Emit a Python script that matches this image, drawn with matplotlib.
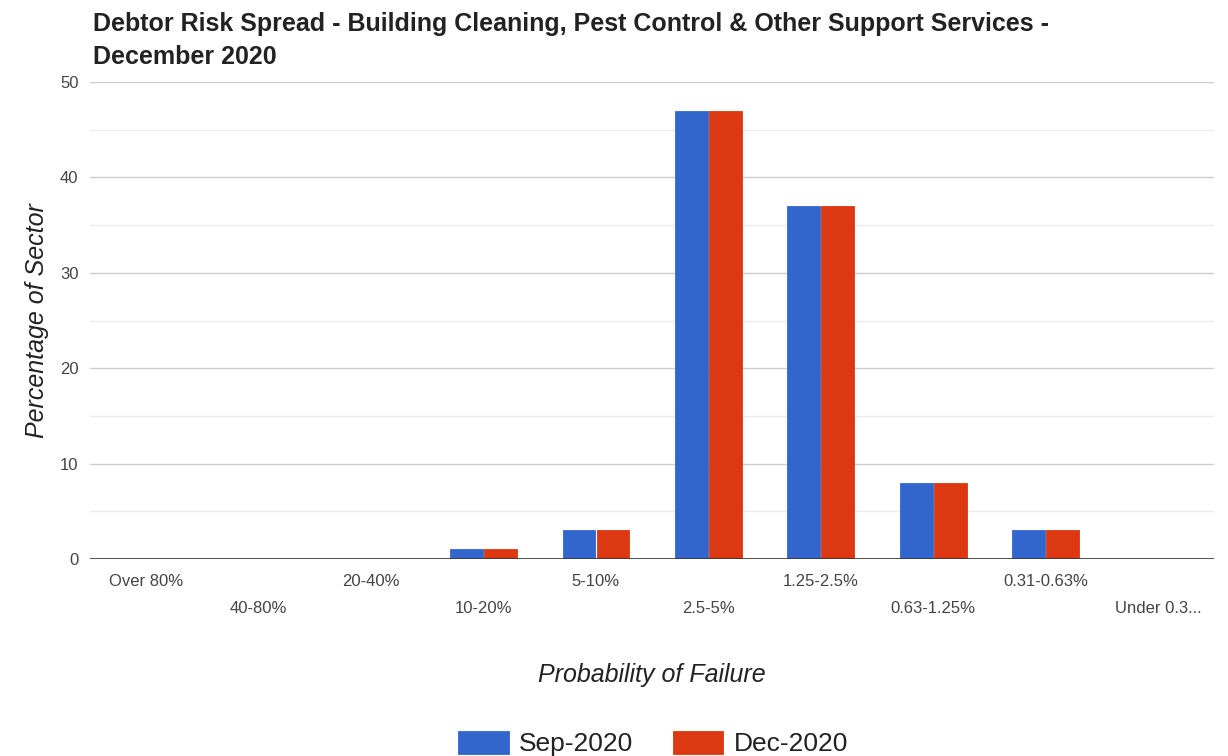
import numpy as np
import matplotlib.pyplot as plt
from matplotlib.ticker import MultipleLocator

categories = ["Over 80%", "40-80%", "20-40%", "10-20%", "5-10%", "2.5-5%",
              "1.25-2.5%", "0.63-1.25%", "0.31-0.63%", "Under 0.3..."]
sep_2020 = [0, 0, 0, 1, 3, 47, 37, 8, 3, 0]
dec_2020 = [0, 0, 0, 1, 3, 47, 37, 8, 3, 0]

plt.rcParams['font.family'] = ['Liberation Sans', 'DejaVu Sans']

fig = plt.figure(figsize=(12.28, 7.56), dpi=100)
ax = fig.add_axes([0.073, 0.2606, 0.916, 0.6309])

x = np.arange(len(categories))
w = 0.29
ax.bar(x - w / 2 - 0.006, sep_2020, w, color='#3366CC', edgecolor='#3366CC',
       linewidth=0.6, label='Sep-2020', zorder=3)
ax.bar(x + w / 2 + 0.006, dec_2020, w, color='#DC3912', edgecolor='#DC3912',
       linewidth=0.6, label='Dec-2020', zorder=3)

ax.set_xlim(-0.5, len(categories) - 0.5)
ax.set_ylim(0, 50)
ax.yaxis.set_major_locator(MultipleLocator(10))
ax.yaxis.set_minor_locator(MultipleLocator(5))
ax.grid(axis='y', which='major', color='#cccccc', linewidth=1, zorder=0)
ax.grid(axis='y', which='minor', color='#ebebeb', linewidth=1, zorder=0)
ax.axhline(0, color='#333333', linewidth=1.2, zorder=4)
for s in ax.spines.values():
    s.set_visible(False)

# staggered category labels
ax.set_xticks(x[::2])
ax.set_xticklabels(categories[::2])
ax.set_xticks(x[1::2], minor=True)
ax.set_xticklabels(categories[1::2], minor=True)
ax.tick_params(axis='x', which='major', length=0, pad=10.5, labelsize=12, labelcolor='#444444')
ax.tick_params(axis='x', which='minor', length=0, pad=30, labelsize=12, labelcolor='#444444')
ax.tick_params(axis='y', which='both', length=0, pad=8, labelsize=12, labelcolor='#444444')

ax.set_ylabel('Percentage of Sector', fontsize=18, style='italic', color='#222222', labelpad=8)
ax.set_xlabel('Probability of Failure', fontsize=18, style='italic', color='#222222', labelpad=34)

fig.text(0.0757, 0.984, 'Debtor Risk Spread - Building Cleaning, Pest Control & Other Support Services -\nDecember 2020',
         fontsize=18, fontweight='bold', color='#222222', va='top', ha='left', linespacing=1.45)

fig.legend(loc='lower center', bbox_to_anchor=(0.532, -0.032), ncol=2, frameon=False,
           fontsize=19, handlelength=1.9, handleheight=1.0, columnspacing=1.5,
           handletextpad=0.4, labelcolor='#222222')

fig.savefig('out.png', dpi=100)
